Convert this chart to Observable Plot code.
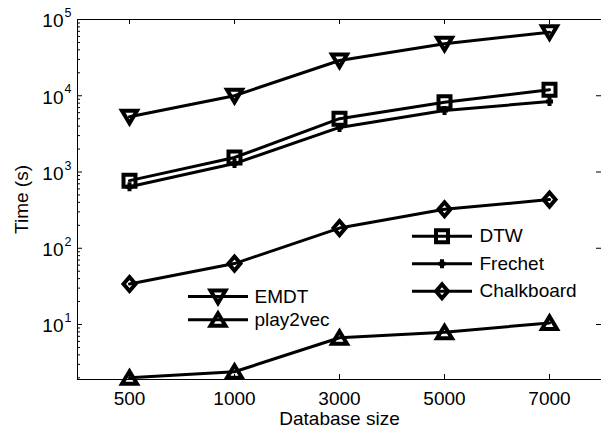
<!DOCTYPE html>
<html>
<head>
<meta charset="utf-8">
<script src="https://cdn.jsdelivr.net/npm/d3@7"></script>
<script src="https://cdn.jsdelivr.net/npm/@observablehq/plot@0.6"></script>
<style>
  html, body { margin: 0; padding: 0; background: #fff; }
  #chart svg { display: block; }
</style>
</head>
<body>
<div id="chart"></div>
<script>
// Database sizes (categorical x axis)
const sizes = ["500", "1000", "3000", "5000", "7000"];

// Running time in seconds for each method
const emdt       = [5300, 10000, 29000, 48000, 68000];
const dtw        = [770, 1550, 5000, 8200, 12000];
const frechet    = [640, 1290, 3840, 6400, 8400];
const chalkboard = [34, 63, 184, 325, 435];
const play2vec   = [2.0, 2.4, 6.7, 7.9, 10.5];

const seriesNames = ["EMDT", "DTW", "Frechet", "Chalkboard", "play2vec"];
const seriesValues = [emdt, dtw, frechet, chalkboard, play2vec];

// Log axis labels: 10^exponent
const decades = [10, 100, 1000, 10000, 100000];
const exponents = ["1", "2", "3", "4", "5"];

// Legend groups
const legendLeft = ["EMDT", "play2vec"];
const legendRight = ["DTW", "Frechet", "Chalkboard"];

// ---- layout ----
const W = 601, H = 432;
const M = {top: 19, right: 0, bottom: 53, left: 77};
const innerW = W - M.left - M.right;
const innerH = H - M.top - M.bottom;
const yDomain = [1.9, 100000];
const font = "'Liberation Sans', Arial, Helvetica, sans-serif";
const fs = 19;
const markerWidth = 4;

const rows = [];
seriesNames.forEach((name, i) =>
  seriesValues[i].forEach((v, j) => rows.push({series: name, size: sizes[j], time: v}))
);

// Marker shapes (pixel geometry, centred on the data point)
const markers = {
  EMDT: {draw(c) { c.moveTo(-7.5, -6); c.lineTo(7.5, -6); c.lineTo(0, 6.5); c.closePath(); }},
  play2vec: {draw(c) { c.moveTo(-7.5, 6); c.lineTo(7.5, 6); c.lineTo(0, -6.5); c.closePath(); }},
  DTW: {draw(c) { c.moveTo(-6, -6); c.lineTo(6, -6); c.lineTo(6, 6); c.lineTo(-6, 6); c.closePath(); }},
  Chalkboard: {draw(c) { c.moveTo(0, -7); c.lineTo(6, 0); c.lineTo(0, 7); c.lineTo(-6, 0); c.closePath(); }},
  Frechet: {draw(c) { c.moveTo(-3.5, 0); c.lineTo(3.5, 0); c.moveTo(0, -4.5); c.lineTo(0, 4.5); }}
};
const swatchLine = {draw(c) { c.moveTo(-30, 0); c.lineTo(30, 0); }};

const legendLayout = [
  {names: legendLeft, dx: 140.5, dy0: 277, step: 23.3, textDx: 177},
  {names: legendRight, dx: 364.5, dy0: 216.7, step: 27.5, textDx: 402}
];

// minor ticks for the log axis
const minorTicks = d3.scaleLog().domain(yDomain).ticks().filter(t => !decades.includes(t));

const marks = [];

// axis box
marks.push(Plot.frame({stroke: "#000", strokeWidth: 1}));

// inward ticks: left (major + minor), right (major), top and bottom
marks.push(Plot.tickY(decades, {y: d => d, stroke: "#000", strokeWidth: 1, insetRight: innerW - 5}));
marks.push(Plot.tickY(minorTicks, {y: d => d, stroke: "#000", strokeWidth: 1, insetRight: innerW - 3}));
marks.push(Plot.tickY(decades, {y: d => d, stroke: "#000", strokeWidth: 1, insetLeft: innerW - 5}));
marks.push(Plot.tickX(sizes, {x: d => d, stroke: "#000", strokeWidth: 1, insetBottom: innerH - 5}));
marks.push(Plot.tickX(sizes, {x: d => d, stroke: "#000", strokeWidth: 1, insetTop: innerH - 5}));

// x tick labels
marks.push(Plot.axisX({ticks: sizes, tickSize: 0, tickPadding: 12, fontSize: fs, label: null, fontFamily: font}));

// y tick labels as 10 with a superscript exponent
marks.push(Plot.text(decades, {y: d => d, text: () => "10", frameAnchor: "left", textAnchor: "end",
  lineAnchor: "middle", dx: -14, dy: 1.7, fontSize: fs, fontFamily: font, fill: "#000"}));
marks.push(Plot.text(decades, {y: d => d, text: (d, i) => exponents[i], frameAnchor: "left", textAnchor: "end",
  lineAnchor: "middle", dx: -6, dy: -6.5, fontSize: 12.5, fontFamily: font, fill: "#000"}));

// axis titles
marks.push(Plot.text(["Time (s)"], {frameAnchor: "left", dx: -56, rotate: -90, textAnchor: "middle",
  lineAnchor: "middle", fontSize: fs, fontFamily: font, fill: "#000"}));
marks.push(Plot.text(["Database size"], {frameAnchor: "bottom", dy: 39.5, textAnchor: "middle",
  lineAnchor: "middle", fontSize: fs, fontFamily: font, fill: "#000"}));

// series lines and markers
for (const name of seriesNames) {
  const data = rows.filter(r => r.series === name);
  marks.push(Plot.line(data, {x: "size", y: "time", stroke: "#000", strokeWidth: 3}));
}
for (const name of seriesNames) {
  const data = rows.filter(r => r.series === name);
  marks.push(Plot.dot(data, {x: "size", y: "time", symbol: markers[name], r: 1,
    stroke: "#000", fill: "none", strokeWidth: markerWidth, strokeLinejoin: "miter"}));
}

// legends
for (const g of legendLayout) {
  g.names.forEach((name, k) => {
    const dy = g.dy0 + k * g.step;
    marks.push(Plot.dot([name], {frameAnchor: "top-left", dx: g.dx, dy, symbol: swatchLine, r: 1,
      stroke: "#000", strokeWidth: 3, fill: "none"}));
    marks.push(Plot.dot([name], {frameAnchor: "top-left", dx: g.dx, dy, symbol: markers[name], r: 1,
      stroke: "#000", strokeWidth: markerWidth, fill: "none", strokeLinejoin: "miter"}));
    marks.push(Plot.text([name], {frameAnchor: "top-left", dx: g.textDx, dy, textAnchor: "start",
      lineAnchor: "middle", fontSize: fs, fontFamily: font, fill: "#000"}));
  });
}

const chart = Plot.plot({
  width: W,
  height: H,
  marginTop: M.top,
  marginRight: M.right,
  marginBottom: M.bottom,
  marginLeft: M.left,
  style: {fontFamily: font, background: "#fff", color: "#000"},
  x: {type: "point", domain: sizes, padding: 0.49, axis: null},
  y: {type: "log", domain: yDomain, axis: null},
  marks
});
document.getElementById("chart").appendChild(chart);
</script>
</body>
</html>
